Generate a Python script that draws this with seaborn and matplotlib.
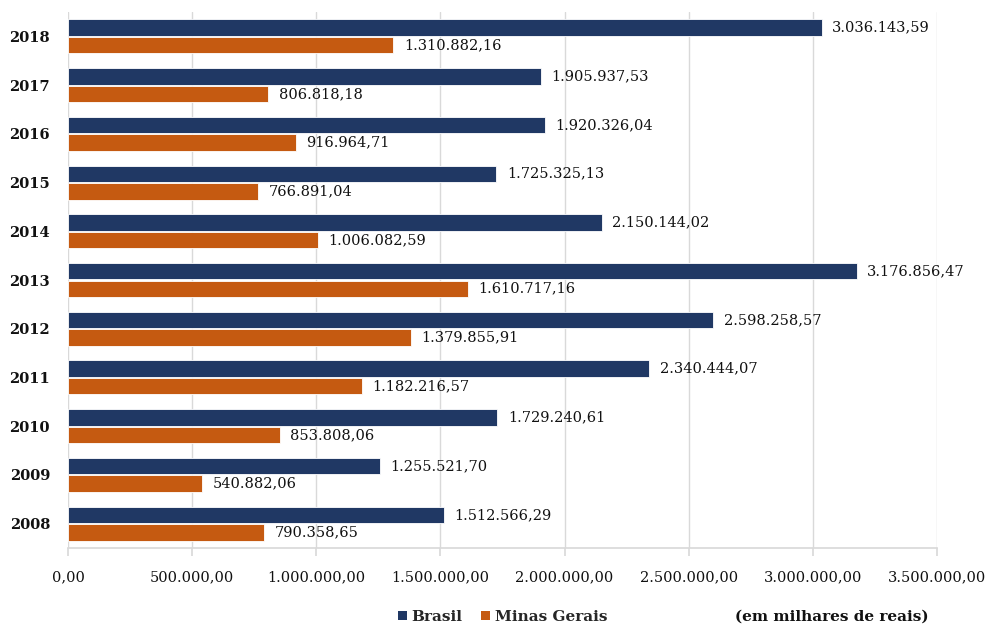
import matplotlib
matplotlib.use("Agg")
import matplotlib.pyplot as plt
import seaborn as sns
import pandas as pd
from matplotlib.ticker import FuncFormatter, MultipleLocator
from matplotlib.patches import Patch

anos = ["2018", "2017", "2016", "2015", "2014", "2013", "2012", "2011", "2010", "2009", "2008"]
brasil = [3036143.59, 1905937.53, 1920326.04, 1725325.13, 2150144.02, 3176856.47,
          2598258.57, 2340444.07, 1729240.61, 1255521.70, 1512566.29]
minas = [1310882.16, 806818.18, 916964.71, 766891.04, 1006082.59, 1610717.16,
         1379855.91, 1182216.57, 853808.06, 540882.06, 790358.65]
series = ["Brasil", "Minas Gerais"]
cores = ["#203864", "#C55A11"]

df = pd.DataFrame({
    "ano": anos * 2,
    "valor": brasil + minas,
    "serie": [series[0]] * len(anos) + [series[1]] * len(anos),
})

def br(v, casas=2):
    s = f"{v:,.{casas}f}"
    return s.replace(",", "X").replace(".", ",").replace("X", ".")

sns.set_theme(style="white")
plt.rcParams["font.family"] = ["DejaVu Serif"]

fig = plt.figure(figsize=(9.85, 6.28), dpi=100)
ax = fig.add_axes([68 / 985, 1 - 548 / 628, (937 - 68) / 985, (548 - 12) / 628])

sns.barplot(data=df, x="valor", y="ano", hue="serie", order=anos, hue_order=series,
            palette=cores, saturation=1, orient="h", width=0.72, gap=0.06, ax=ax,
            edgecolor="white", linewidth=0.6, legend=False)

for cont in ax.containers:
    for bar in cont:
        w = bar.get_width()
        ax.text(w + 42000, bar.get_y() + bar.get_height() / 2, br(w),
                va="center", ha="left", fontsize=10.5, color="#111111")

ax.set_xlim(0, 3500000)
ax.xaxis.set_major_locator(MultipleLocator(500000))
ax.xaxis.set_major_formatter(FuncFormatter(lambda v, p: br(v)))
ax.grid(axis="x", color="#d9d9d9", linewidth=1)
ax.set_axisbelow(True)
for s in ["top", "right", "left"]:
    ax.spines[s].set_visible(False)
ax.spines["bottom"].set_color("#d9d9d9")
ax.tick_params(axis="x", length=6, color="#d9d9d9", labelsize=10.5, pad=10, bottom=True,
               labelcolor="#111111")
ax.tick_params(axis="y", length=0, pad=13)
for t in ax.get_yticklabels():
    t.set_fontweight("bold")
    t.set_fontsize(10.5)
    t.set_color("#111111")
ax.set_xlabel("")
ax.set_ylabel("")

handles = [Patch(facecolor=c, edgecolor="none") for c in cores]
fig.legend(handles, series, loc="center left", bbox_to_anchor=(384 / 985, 1 - 617 / 628),
           ncol=2, frameon=False, handlelength=0.6, handleheight=0.6, handletextpad=0.3,
           columnspacing=1.2, prop={"weight": "bold", "size": 11})
fig.text(735 / 985, 1 - 617 / 628, "(em milhares de reais)", fontsize=11,
         fontweight="bold", va="center", ha="left", color="#111111")

fig.savefig("out.png", dpi=100)
